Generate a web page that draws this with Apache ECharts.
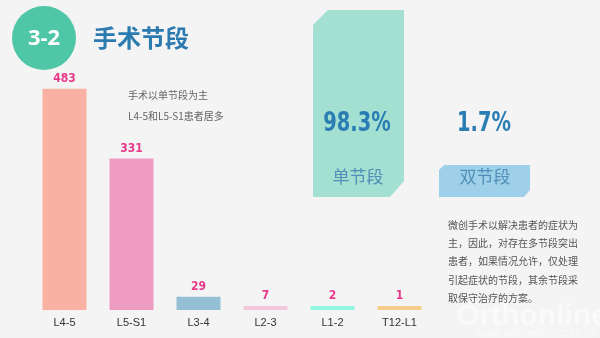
<!DOCTYPE html>
<html><head><meta charset="utf-8">
<script src="https://cdn.jsdelivr.net/npm/echarts@6/dist/echarts.min.js"></script>
<style>html,body{margin:0;padding:0;background:#f4f4f4}#c{width:600px;height:338px}</style>
</head><body><div id="c"></div>
<script>
var categories = ['L4-5', 'L5-S1', 'L3-4', 'L2-3', 'L1-2', 'T12-L1'];
var counts = [483, 331, 29, 7, 2, 1];
var barColors = ['#f9b1a3', '#ee9cc1', '#94bfd4', '#f3c8da', '#92f6e1', '#f6cc8c'];
var shareNames = ['单节段', '双节段'];
var shareValues = [98.3, 1.7];
var noteLines = ['手术以单节段为主', 'L4-5和L5-S1患者居多'];
var paraLines = ['微创手术以解决患者的症状为', '主，因此，对存在多节段突出', '患者，如果情况允许，仅处理', '引起症状的节段，其余节段采', '取保守治疗的方案。'];

var chart = echarts.init(document.getElementById('c'));
var cjk = '"Noto Sans CJK SC", sans-serif';
var narrow = '"DejaVu Sans Condensed", "Liberation Sans Narrow", "Liberation Sans", sans-serif';

var graphics = [
  {type:'circle', shape:{cx:44, cy:38, r:32}, style:{fill:'#4fc7a6'}},
  {type:'text', x:44, y:39, style:{text:'3-2', fill:'#fff', font:'bold 22px "Open Sans", sans-serif', align:'center', verticalAlign:'middle'}},
  {type:'text', x:93, y:38, style:{text:'手术节段', fill:'#2b7bb0', font:'bold 24px ' + cjk, verticalAlign:'middle'}},
  {type:'polygon', shape:{points:[[313,25],[328,10],[404,10],[404,181],[390,197],[313,197]]}, style:{fill:'#a4e0d2'}},
  {type:'polygon', shape:{points:[[439,170],[444,165],[530,165],[530,190],[524,197],[439,197]]}, style:{fill:'#9fd0e9'}},
  {type:'text', x:357, y:124, scaleX:0.8, style:{text: shareValues[0] + '%', fill:'#2a7db3', font:'bold 27px ' + narrow, align:'center', verticalAlign:'middle'}},
  {type:'text', x:484, y:124, scaleX:0.8, style:{text: shareValues[1] + '%', fill:'#2a7db3', font:'bold 27px ' + narrow, align:'center', verticalAlign:'middle'}},
  {type:'text', x:358, y:177, style:{text: shareNames[0], fill:'#4f8fb8', font:'17px ' + cjk, align:'center', verticalAlign:'middle'}},
  {type:'text', x:485, y:177, style:{text: shareNames[1], fill:'#4f8fb8', font:'17px ' + cjk, align:'center', verticalAlign:'middle'}},
  {type:'text', x:532, y:317, style:{text:'Orthonline', fill:'rgba(255,255,255,0.55)', font:'bold 30px "Liberation Sans", sans-serif', align:'center', verticalAlign:'middle'}},
  {type:'text', x:536, y:334, style:{text:'www.orthonline.com.cn', fill:'rgba(255,255,255,0.55)', font:'12px "Liberation Sans", sans-serif', align:'center', verticalAlign:'middle'}}
];
noteLines.forEach(function(t, i){
  graphics.push({type:'text', x:128, y:95 + i*21.5, style:{text:t, fill:'#666', font:'10px ' + cjk, verticalAlign:'middle'}});
});
paraLines.forEach(function(t, i){
  graphics.push({type:'text', x:448, y:225 + i*18.3, style:{text:t, fill:'#555', font:'10px ' + cjk, verticalAlign:'middle'}});
});

chart.setOption({
  backgroundColor:'#f4f4f4',
  animation:false,
  grid:{left:31, width:402, top:81, bottom:28},
  xAxis:{type:'category', data:categories, axisLine:{show:false}, axisTick:{show:false},
    axisLabel:{color:'#333', fontSize:11, margin:7, fontFamily:'"Liberation Sans", sans-serif'}},
  yAxis:{type:'value', min:0, max:500, show:false, splitLine:{show:false}},
  series:[{type:'bar', barWidth:44, barMinHeight:4,
    data: counts.map(function(v, i){ return {value:v, itemStyle:{color:barColors[i]}}; }),
    label:{show:true, position:'top', distance:4, color:'#e8388a', fontSize:12, fontWeight:'bold', fontFamily:narrow}
  }],
  graphic: graphics
});
</script></body></html>
